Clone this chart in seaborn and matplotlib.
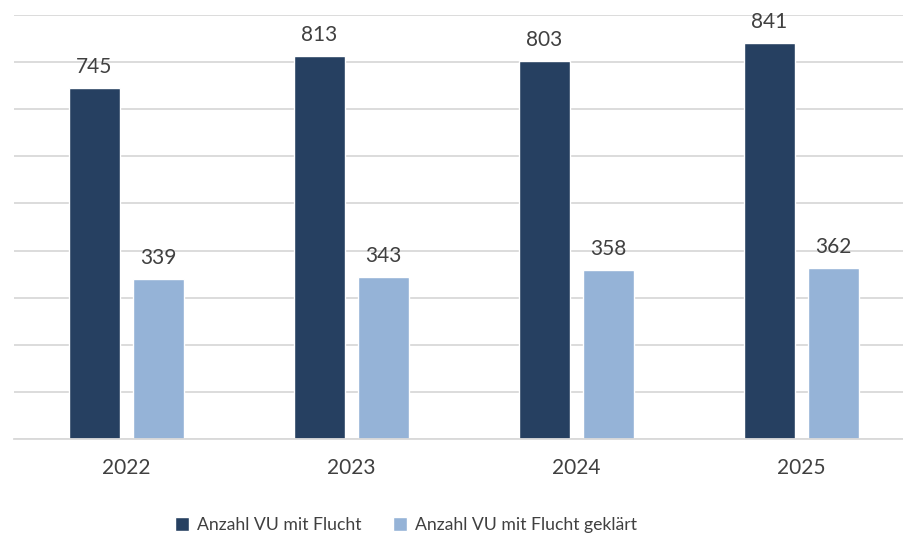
import pandas as pd
import matplotlib.pyplot as plt
import seaborn as sns

# Data
years = ["2022", "2023", "2024", "2025"]
mit_flucht = [745, 813, 803, 841]
geklaert = [339, 343, 358, 362]
series_names = ["Anzahl VU mit Flucht", "Anzahl VU mit Flucht geklärt"]

df = pd.DataFrame({
    "Jahr": years * 2,
    "Anzahl": mit_flucht + geklaert,
    "Serie": [series_names[0]] * len(years) + [series_names[1]] * len(years),
})

sns.set_style("white")
plt.rcParams["font.family"] = ["Lato", "DejaVu Sans"]

text_col = "#404040"
grid_col = "#D9D9D9"

fig = plt.figure(figsize=(9.04, 5.37), dpi=100)
# plot area continues past the right edge, as in the reference
ax = fig.add_axes([14 / 904, 98 / 537, 900 / 904, 424 / 537])

sns.barplot(data=df, x="Jahr", y="Anzahl", hue="Serie",
            palette=["#264061", "#95B3D7"], width=0.57, gap=0.2,
            saturation=1, ax=ax, legend=True)

for cont in ax.containers:
    ax.bar_label(cont, padding=8, fontsize=15, color=text_col)

ax.set_ylim(0, 900)
ax.set_xlim(-0.5, 3.5)
ax.set_yticks(range(0, 901, 100))
ax.set_yticklabels([])
ax.tick_params(axis="y", length=0)
ax.grid(axis="y", color=grid_col, linewidth=1.3)
ax.set_axisbelow(True)

ax.set_xlabel("")
ax.set_ylabel("")
ax.tick_params(axis="x", which="major", length=0, labelsize=15,
               labelcolor=text_col, pad=14)
ax.set_xticks([-0.5, 0.5, 1.5, 2.5, 3.5], minor=True)
ax.tick_params(axis="x", which="minor", length=5, color=grid_col, width=1.3)

for s in ["top", "right", "left"]:
    ax.spines[s].set_visible(False)
ax.spines["bottom"].set_color(grid_col)
ax.spines["bottom"].set_linewidth(1.3)

handles, labels = ax.get_legend_handles_labels()
ax.get_legend().remove()
leg = fig.legend(handles, labels, loc="center", bbox_to_anchor=(406 / 904, 1 - 525 / 537),
                 ncol=2, frameon=False, fontsize=12.7, handlelength=0.8, handleheight=0.8,
                 handletextpad=0.45, columnspacing=1.75)
for t in leg.get_texts():
    t.set_color(text_col)

fig.savefig("out.png", dpi=100)
